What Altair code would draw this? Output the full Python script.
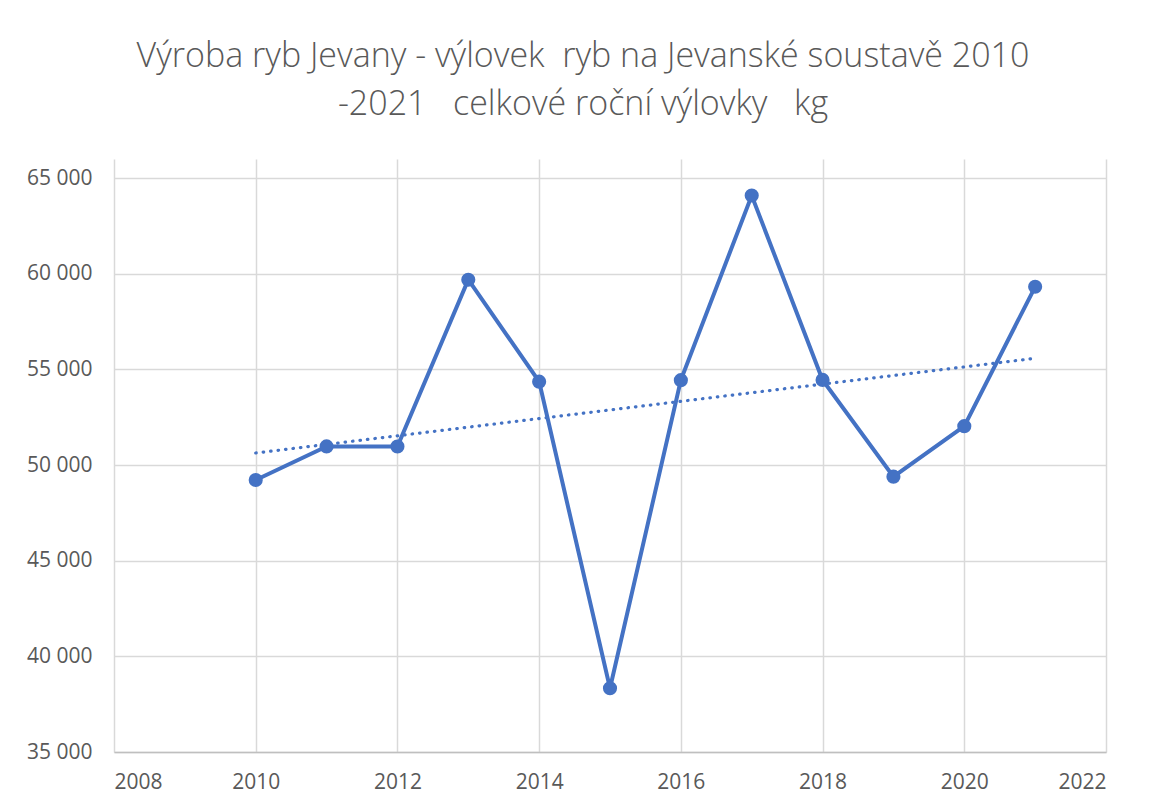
import altair as alt
import pandas as pd

years = [2010, 2011, 2012, 2013, 2014, 2015, 2016, 2017, 2018, 2019, 2020, 2021]
catch_kg = [49217, 50975, 50970, 59690, 54360, 38330, 54440, 64090, 54450, 49395, 52035, 59320]
x_ticks = [2008, 2010, 2012, 2014, 2016, 2018, 2020, 2022]
y_ticks = [35000, 40000, 45000, 50000, 55000, 60000, 65000]
title_lines = ["Výroba ryb Jevany - výlovek\u00a0 ryb na Jevanské soustavě 2010",
               "-2021 \u00a0 celkové roční výlovky \u00a0 kg"]

df = pd.DataFrame({"rok": years, "kg": catch_kg})

BLUE = "#4472C4"
TXT = "#595959"
GRID = "#d9d9d9"
FONT = "Open Sans"

x = alt.X("rok:Q",
          scale=alt.Scale(domain=[2008, 2022], nice=False, zero=False),
          axis=alt.Axis(values=x_ticks, format="d", title=None, grid=True,
                        gridColor=GRID, gridWidth=1.5, domainColor="#bfbfbf",
                        domainWidth=1.5, ticks=False, labelPadding=19,
                        labelFontSize=21, labelColor=TXT, labelFont=FONT))
y = alt.Y("kg:Q",
          scale=alt.Scale(domain=[35000, 66000], nice=False, zero=False),
          axis=alt.Axis(values=y_ticks, title=None, grid=True, gridColor=GRID,
                        gridWidth=1.5, domain=False, ticks=False, labelPadding=22,
                        labelExpr="replace(format(datum.value, ','), ',', ' ')",
                        labelFontSize=21, labelColor=TXT, labelFont=FONT))

base = alt.Chart(df)

line = base.mark_line(color=BLUE, strokeWidth=4).encode(x=x, y=y)
pts = base.mark_point(color=BLUE, filled=True, opacity=1, size=200).encode(x=x, y=y)
trend = base.transform_regression("rok", "kg").mark_line(
    color=BLUE, strokeWidth=3.2, strokeDash=[0.5, 7], strokeCap="round"
).encode(x=x, y=y)

chart = alt.layer(trend, line, pts).properties(
    width=992, height=593,
    autosize=alt.AutoSizeParams(type="none"),
    padding={"left": 106, "top": 151, "right": 35, "bottom": 49},
    title=alt.TitleParams(title_lines, anchor="middle", frame="group", dx=-27,
                          offset=37, fontSize=34, font=FONT, fontWeight=300,
                          color=TXT, lineHeight=48),
).configure_view(stroke=None)

chart.save("out.html", embed_options={"renderer": "svg", "actions": False})
